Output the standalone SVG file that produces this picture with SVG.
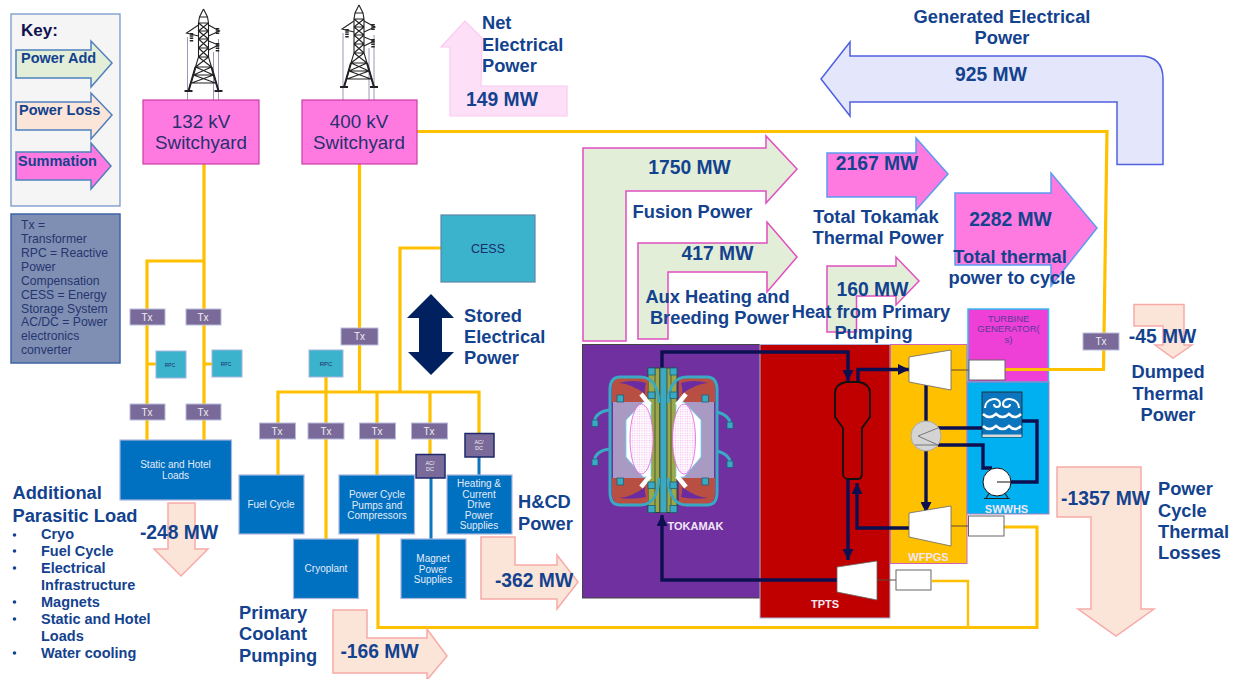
<svg xmlns="http://www.w3.org/2000/svg" width="1238" height="679" viewBox="0 0 1238 679">
<style>
text{font-family:"Liberation Sans",Arial,sans-serif}
.h{font-weight:700;font-size:18.300px;fill:#13428e}
.c{text-anchor:middle}
.m{font-weight:700;font-size:19.300px;fill:#13428e;text-anchor:middle}
.k{font-weight:700;font-size:14.500px;fill:#13428e}
.li{font-weight:700;font-size:14.500px;fill:#13428e}
.w{fill:#e3eed9;stroke:#e04fc0;stroke-width:1.5}
.s{fill:#ff7ae0;stroke:#5b9bf0;stroke-width:1.5}
.l{fill:#fbe5d8;stroke:#f7aaa8;stroke-width:1.5}
.y{fill:none;stroke:#ffc000;stroke-width:3.200}
.yt{fill:none;stroke:#ffc000;stroke-width:2.400}
.bl{fill:none;stroke:#0f75bd;stroke-width:3}
.n{fill:none;stroke:#0c1050;stroke-width:3.400}
.sh{fill:none;stroke:#5a4a3a;stroke-width:1}
.b{fill:#0070c0;stroke:#a8b4dc;stroke-width:1.200}
.bt{fill:#e4ecf8;font-size:10px;text-anchor:middle}
.tx{fill:#7a6a9a;stroke:#b8bcdc;stroke-width:1}
.txt{fill:#eee;font-size:10px;text-anchor:middle}
.rpc{fill:#3bb3cd;stroke:#a8b4dc;stroke-width:1}
.ad{fill:#7a6a9a;stroke:#1c2a6b;stroke-width:1.500}
.adt{fill:#eee;font-size:5.500px;text-anchor:middle}
.rt{fill:#1d2b6b;text-anchor:middle}
.tb{fill:#fff;stroke:#666;stroke-width:1}
.tur{fill:#fff;stroke:#666;stroke-width:.8}
.lab{font-weight:700;fill:#f3e6f5;font-size:11px;text-anchor:middle}
.sy{font-size:18.800px;fill:#27306e;text-anchor:middle}
.tw{fill:none;stroke:#222;stroke-width:1.100}
.sq{fill:#3aa9c4;stroke:#1f5f75;stroke-width:.8}
.tube{fill:none;stroke:#3aa9c4;stroke-width:3}
.wv{fill:none;stroke:#fff}
</style>
<defs>
<marker id="ah" viewBox="0 0 10 10" refX="10" refY="5" markerWidth="11" markerHeight="11" markerUnits="userSpaceOnUse" orient="auto"><path d="M0 0L10 5L0 10Z" fill="#0c1050"/></marker>
<pattern id="dots" width="2.400" height="2.400" patternUnits="userSpaceOnUse"><rect width="2.400" height="2.400" fill="#fff"/><circle cx="1.200" cy="1.200" r=".7" fill="#f6b8f0"/></pattern>
<g id="tower">
<path d="M-16 28V95M10 43V95M15 30V95" stroke="#9a9ab8" stroke-width="1" fill="none"/>
<path class="tw" d="M0 0L-4 8L-5 14V48L-8 58L-15 82M0 0L4 8L5 14V48L8 58L15 82M-4 8H4M-5 14H5M-5 14L5 22M5 14L-5 22M-5 22H5M-5 22L5 30M5 22L-5 30M-5 30H5M-5 30L5 39M5 30L-5 39M-5 39H5M-5 39L5 48M5 39L-5 48M-5 48H5M-5 48L8 58M5 48L-8 58M-8 58H8M-8 58L10 66M8 58L-10 66M-10 66H10M-10 66L12 74M10 66L-12 74M-12 74H12"/>
<path class="tw" d="M-5 16L-17 24L-5 27M5 16L16 22L5 27M5 32L15 36L5 41"/>
<path d="M-8 58L-15 82M8 58L15 82M-19 82H-11M11 82H19" stroke="#222" stroke-width="2" fill="none"/>
<path d="M-12 24v9M14 19v7M14 34v9" stroke="#222" stroke-width="3.500" stroke-dasharray="1.500 .8" fill="none"/>
</g>
</defs>
<rect width="1238" height="679" fill="#fff"/>

<g id="plant-backgrounds">
<rect id="tokamak-area" x="582.500" y="344.500" width="177.500" height="253.500" fill="#7030a0" stroke="#444" stroke-width="1"/>
<rect id="tpts-area" x="760" y="344.500" width="130" height="273.500" fill="#c00000" stroke="#a8b4dc" stroke-width="1"/>
<rect id="wfpgs-area" x="890.500" y="344.500" width="76.500" height="219" fill="#ffc000" stroke="#cc66bb" stroke-width="1"/>
<rect id="turbine-area" x="968" y="309" width="80.500" height="73" fill="#ee3fd6" stroke="#33bbee" stroke-width="1.500"/>
<rect id="swwhs-area" x="967" y="382" width="82" height="132" fill="#00b0f0" stroke="#b080c0" stroke-width="1"/>
</g>

<g id="connectors">
<path class="y" d="M204 164V440M147 440V261H204"/>
<path class="y" d="M147 364H156M204 364H212"/>
<path class="y" d="M359.500 164V392M400 392V248H441"/>
<path class="y" d="M278 475V392H479V433"/>
<path class="y" d="M326 377V539"/>
<path class="y" d="M377 392V475M430 392V455"/>
<path class="y" d="M378 534V627.500H1037V527H1003"/>
<path class="yt" d="M932 581H968V627"/>
<path class="y" d="M417 131.500H1107L1103.500 369.500H1005"/>
<path class="bl" d="M431 478V539M479 457V475"/>
<path class="n" d="M662 368V352H848V381" marker-end="url(#ah)"/>
<path class="n" d="M858 382V369.500H909" marker-end="url(#ah)"/>
<path class="n" d="M926 385V422"/>
<path class="n" d="M926 451V513" marker-end="url(#ah)"/>
<path class="n" d="M910 528H857V483" marker-end="url(#ah)"/>
<path class="n" d="M848 479V560" marker-end="url(#ah)"/>
<path class="n" d="M838 580H662V515" marker-end="url(#ah)"/>
<path class="n" d="M938 428H983M938 445H983V468H992"/>
<path class="n" d="M1021 421H1037V482H1008"/>
<path class="sh" d="M951 370H969M951 526H969M877 580H896"/>
</g>

<g id="key"><rect x="11" y="14" width="109" height="192" fill="#f5f5f5" stroke="#6a90c8" stroke-width="1.200"/>
<text x="21" y="36" font-size="17" font-weight="700" fill="#10124f">Key:</text>
<path d="M16 50H91V41L112 63L91 87V78H16Z" fill="#e3eed9" stroke="#4f81bd" stroke-width="1.500"/><text x="21" y="63" class="k">Power Add</text>
<path d="M16 102H91V93L112 115L91 139V130H16Z" fill="#fbe5d8" stroke="#4f81bd" stroke-width="1.500"/><text x="19" y="115" class="k">Power Loss</text>
<path d="M16 152H91V143L111 166L91 189V180H16Z" fill="#ff7ae0" stroke="#4f81bd" stroke-width="1.500"/><text x="18" y="166" class="k">Summation</text></g>
<g id="legend"><rect x="11" y="214" width="109" height="149" fill="#7f8fb3" stroke="#3f64a6" stroke-width="1.500"/>
<text font-size="12.200" fill="#26356f"><tspan x="21" y="229">Tx =</tspan><tspan x="21" y="243">Transformer</tspan><tspan x="21" y="257">RPC = Reactive</tspan><tspan x="21" y="271">Power</tspan><tspan x="21" y="285">Compensation</tspan><tspan x="21" y="299">CESS = Energy</tspan><tspan x="21" y="313">Storage System</tspan><tspan x="21" y="326">AC/DC = Power</tspan><tspan x="21" y="340">electronics</tspan><tspan x="21" y="354">converter</tspan></text></g>

<g id="generated-power"><path d="M1163 164.500H1117V102H850V116L821 79L850 42V56H1140Q1163 56 1163 79Z" fill="#e4e6fb" stroke="#5060e0" stroke-width="1.500"/><text x="991" y="81" class="m">925 MW</text><text x="1002" y="23" class="h c">Generated Electrical</text><text x="1002" y="44" class="h c">Power</text></g>
<g id="net-power"><path d="M450 47H441L465 21L482 38L481 86H567V116H450Z" fill="#fde0f8" stroke="#fcc8f0" stroke-width="1.200"/><text x="502" y="106" class="m">149 MW</text><text class="h"><tspan x="482" y="29">Net</tspan><tspan x="482" y="51">Electrical</tspan><tspan x="482" y="72">Power</tspan></text></g>

<g id="sw132"><use href="#tower" x="203.500" y="9"/><rect x="143" y="100" width="116" height="64" fill="#ff7ae0" stroke="#c83ca8" stroke-width="1.200"/><text x="201" y="128" class="sy">132 kV</text><text x="201" y="149" class="sy">Switchyard</text></g>
<g id="sw400"><use href="#tower" x="359" y="5"/><rect x="302" y="100" width="115" height="64" fill="#ff7ae0" stroke="#c83ca8" stroke-width="1.200"/><text x="359" y="128" class="sy">400 kV</text><text x="359" y="149" class="sy">Switchyard</text></g>

<g id="cess"><rect x="441" y="215" width="94" height="67" fill="#3bb3cd" stroke="#5b86a8" stroke-width="1.200"/><text x="488" y="253" font-size="12.500" fill="#1d2b6b" text-anchor="middle">CESS</text></g>
<g id="stored"><path d="M431 294L454 318H442V352H454L431 375L408 352H419V318H407Z" fill="#002060"/><text class="h"><tspan x="464" y="322">Stored</tspan><tspan x="464" y="343">Electrical</tspan><tspan x="464" y="364">Power</tspan></text></g>

<g id="tx-nodes">
<rect class="tx" x="130" y="309" width="35" height="16"/><text class="txt" x="147" y="321">Tx</text>
<rect class="tx" x="186" y="309" width="35" height="16"/><text class="txt" x="203" y="321">Tx</text>
<rect class="tx" x="130" y="404" width="35" height="16"/><text class="txt" x="147" y="416">Tx</text>
<rect class="tx" x="186" y="404" width="35" height="16"/><text class="txt" x="203" y="416">Tx</text>
<rect class="tx" x="341" y="328" width="37" height="17"/><text class="txt" x="359.500" y="340">Tx</text>
<rect class="tx" x="259.500" y="423" width="36" height="16"/><text class="txt" x="277" y="435">Tx</text>
<rect class="tx" x="308" y="423" width="36" height="16"/><text class="txt" x="326" y="435">Tx</text>
<rect class="tx" x="359.500" y="423" width="36" height="16"/><text class="txt" x="377" y="435">Tx</text>
<rect class="tx" x="411.500" y="423" width="36" height="16"/><text class="txt" x="429" y="435">Tx</text>
<rect class="tx" x="1083" y="333" width="36" height="17"/><text class="txt" x="1101" y="345">Tx</text>
</g>
<g id="rpc-nodes">
<rect class="rpc" x="156" y="351" width="30" height="27"/><text class="rt" x="170" y="367" font-size="5">RPC</text>
<rect class="rpc" x="212" y="350" width="30" height="27"/><text class="rt" x="226" y="366" font-size="5">RPC</text>
<rect class="rpc" x="309" y="350" width="34" height="27"/><text class="rt" x="326" y="366" font-size="6">RPC</text>
</g>
<g id="acdc-nodes">
<rect class="ad" x="416" y="454.500" width="29" height="23.500"/><text class="adt" x="430" y="465">AC/</text><text class="adt" x="430" y="471">DC</text>
<rect class="ad" x="465" y="433.500" width="29" height="23.500"/><text class="adt" x="479" y="444">AC/</text><text class="adt" x="479" y="450">DC</text>
</g>
<g id="static"><rect class="b" x="120" y="440" width="111.500" height="60"/><text class="bt" x="175.500" y="468">Static and Hotel</text><text class="bt" x="175.500" y="479">Loads</text></g>
<g id="fuel"><rect class="b" x="239" y="475" width="65" height="59"/><text class="bt" x="271" y="508">Fuel Cycle</text></g>
<g id="cryo"><rect class="b" x="293.500" y="539" width="65" height="59.500"/><text class="bt" x="326" y="572">Cryoplant</text></g>
<g id="pumps"><rect class="b" x="339" y="475" width="75.500" height="59"/><text class="bt" x="377" y="498">Power Cycle</text><text class="bt" x="377" y="508.500">Pumps and</text><text class="bt" x="377" y="519">Compressors</text></g>
<g id="magnet"><rect class="b" x="401" y="539" width="65" height="59.500"/><text class="bt" x="433" y="562">Magnet</text><text class="bt" x="433" y="572.500">Power</text><text class="bt" x="433" y="583">Supplies</text></g>
<g id="hcd"><rect class="b" x="447" y="475" width="65" height="59"/><text class="bt" x="479" y="487">Heating &amp;</text><text class="bt" x="479" y="497.500">Current</text><text class="bt" x="479" y="508">Drive</text><text class="bt" x="479" y="518.500">Power</text><text class="bt" x="479" y="529">Supplies</text></g>

<g id="parasitic-load">
<path class="l" d="M168 503H195V549H208L181 576L154 549H168Z"/>
<text x="179" y="539" class="m">-248 MW</text>
<text class="h"><tspan x="12.500" y="499">Additional</tspan><tspan x="12.500" y="522">Parasitic Load</tspan></text>
<g fill="#13428e"><circle cx="14.500" cy="535" r="1.800"/><circle cx="14.500" cy="551" r="1.800"/><circle cx="14.500" cy="568" r="1.800"/><circle cx="14.500" cy="602" r="1.800"/><circle cx="14.500" cy="619" r="1.800"/><circle cx="14.500" cy="653" r="1.800"/></g>
<text class="li" x="41" y="539">Cryo</text><text class="li" x="41" y="556">Fuel Cycle</text><text class="li" x="41" y="573">Electrical</text><text class="li" x="41" y="590">Infrastructure</text><text class="li" x="41" y="607">Magnets</text><text class="li" x="41" y="624">Static and Hotel</text><text class="li" x="41" y="641">Loads</text><text class="li" x="41" y="658">Water cooling</text>
</g>
<g id="hcd-power">
<path class="l" d="M481 537H515V565H557V555L578 582L557 609V599H481Z"/><text x="534" y="587" class="m">-362 MW</text>
<text class="h"><tspan x="518" y="508">H&amp;CD</tspan><tspan x="518" y="530">Power</tspan></text>
</g>
<g id="coolant-pumping">
<path class="l" d="M333 610H367V638H427V629L447 656L427 680V673H333Z"/><text x="379.500" y="658" class="m">-166 MW</text>
<text class="h"><tspan x="239" y="619">Primary</tspan><tspan x="239" y="640">Coolant</tspan><tspan x="239" y="662">Pumping</tspan></text>
</g>
<g id="dumped">
<path class="l" d="M1134 304.500H1184V345H1192L1173 358L1155 345H1163V326H1134Z"/>
<text x="1162.500" y="343" class="m">-45 MW</text>
<text class="h c"><tspan x="1168" y="378">Dumped</tspan><tspan x="1168" y="400">Thermal</tspan><tspan x="1168" y="421">Power</tspan></text>
</g>
<g id="cycle-losses">
<path class="l" d="M1057 467H1141V609H1154L1116 636L1078 609H1091V517H1057Z"/>
<text x="1105.500" y="505" class="m">-1357 MW</text>
<text class="h"><tspan x="1158" y="495">Power</tspan><tspan x="1158" y="517">Cycle</tspan><tspan x="1158" y="538">Thermal</tspan><tspan x="1158" y="559">Losses</tspan></text>
</g>

<g id="fusion-power"><path class="w" d="M583 148H766V136L797 169L766 203V191H626V341H583Z"/>
<text x="689.500" y="174" class="m">1750 MW</text><text x="692.500" y="218" class="h c">Fusion Power</text></g>
<g id="aux-heating"><path class="w" d="M638 243H767V222L797 257L767 292V272H668V339H638Z"/>
<text x="717.500" y="260" class="m">417 MW</text><text x="717.500" y="303" class="h c">Aux Heating and</text><text x="719.500" y="324" class="h c">Breeding Power</text></g>
<g id="total-tokamak"><path class="s" d="M827 153H916V138L948 174L916 210V197H827Z"/>
<text x="877" y="170" class="m">2167 MW</text><text x="876" y="223" class="h c">Total Tokamak</text><text x="878" y="244" class="h c">Thermal Power</text></g>
<g id="primary-pumping"><path class="w" d="M827 266H896V257L919 281L896 305V296H856.500V332H827Z"/>
<text x="872.500" y="296" class="m">160 MW</text><text x="871" y="318" class="h c">Heat from Primary</text><text x="873.500" y="339" class="h c">Pumping</text></g>
<g id="total-thermal"><path class="s" d="M955 193H1051V173L1097 228L1051 286V265H955Z"/>
<text x="1010.500" y="226" class="m">2282 MW</text><text x="1010" y="263" class="h c">Total thermal</text><text x="1012" y="284" class="h c">power to cycle</text></g>

<g id="tokamak">
<rect x="648" y="368" width="29" height="144.500" fill="#9aa84a" stroke="#2f3d3f" stroke-width="1"/>
<path d="M655 368V512M659.500 368V512M667 368V512M671 368V512" stroke="#3e4a2e" stroke-width=".8" fill="none"/>
<path d="M622 377H648V402H612V387Q612 377 622 377ZM705 377H679V402H715V387Q715 377 705 377ZM622 504H648V478H612V494Q612 504 622 504ZM705 504H679V478H715V494Q715 504 705 504Z" fill="#b84f42"/>
<rect x="613" y="402" width="36" height="76" fill="#a99ac4"/><rect x="678" y="402" width="36" height="76" fill="#a99ac4"/>
<path d="M643 402L626 420V457L643 477L651 477V402Z" fill="#fff" stroke="#5fd8ee" stroke-width=".8"/><path d="M684 402L701 420V457L684 477L676 477V402Z" fill="#fff" stroke="#5fd8ee" stroke-width=".8"/>
<ellipse cx="641.500" cy="439" rx="11.500" ry="35" fill="url(#dots)" stroke="#e05ee0" stroke-width=".8"/><ellipse cx="684" cy="439" rx="11.500" ry="35" fill="url(#dots)" stroke="#e05ee0" stroke-width=".8"/>
<path d="M619 383Q634 379 646 383Q644 390 645 394Q632 384 619 383ZM708 383Q693 379 681 383Q683 390 682 394Q695 384 708 383ZM619 498Q634 500 646 497Q644 490 645 487Q632 497 619 498ZM708 498Q693 500 681 497Q683 490 682 487Q695 497 708 498Z" fill="#6a2ca0"/>
<path d="M641 394L650 405M686 394L677 405M641 487L650 476M686 487L677 476" stroke="#fff" stroke-width="4.500"/>
<path class="tube" d="M659 403C658 385 652 377 640 377H620Q610 377 610 390V492Q610 505 620 505H640C652 505 658 497 659 478M668 403C669 385 675 377 687 377H707Q717 377 717 390V492Q717 505 707 505H687C675 505 669 497 668 478"/>
<rect x="660.500" y="368" width="6" height="144.500" fill="#3aa9c4" stroke="#1f5f75" stroke-width=".5"/>
<rect class="sq" x="648" y="368" width="7" height="7"/><rect class="sq" x="670" y="368" width="7" height="7"/><rect class="sq" x="648" y="392" width="7" height="6.500"/><rect class="sq" x="670" y="392" width="7" height="6.500"/><rect class="sq" x="648" y="482" width="7" height="6.500"/><rect class="sq" x="670" y="482" width="7" height="6.500"/><rect class="sq" x="648" y="505.500" width="7" height="7"/><rect class="sq" x="670" y="505.500" width="7" height="7"/>
<rect class="sq" x="617" y="395" width="6.500" height="7"/><rect class="sq" x="702" y="395" width="6.500" height="7"/><rect class="sq" x="617" y="478" width="6.500" height="7"/><rect class="sq" x="702" y="478" width="6.500" height="7"/>
<path class="tube" d="M609 410Q596 412 594.500 421M609 449Q596 451 594.500 460M717 412Q729 415 730 423M717 451Q729 454 730 462"/>
<rect class="sq" x="592" y="420" width="6" height="6.500"/><rect class="sq" x="592" y="459" width="6" height="6.500"/><rect class="sq" x="727" y="422" width="6" height="6.500"/><rect class="sq" x="727" y="461" width="6" height="6.500"/>
<text class="lab" x="695.500" y="530">TOKAMAK</text>
</g>

<g id="steam-generator"><path d="M846 382C841 383 835 385 835 393V417L843 428V473C843 478 845 479 849 479H858C861 479 862 477 862 473V428L870 417V393C870 385 864 383 859 382Z" fill="#c00000" stroke="#111" stroke-width="1.800"/></g>
<g id="tpts"><path class="tur" d="M837 567L877 561V600L837 592Z"/><rect class="tb" x="896" y="570" width="35" height="20"/><text class="lab" x="825" y="608">TPTS</text></g>
<g id="wfpgs">
<path class="tur" d="M909 357L951 350V390L909 382Z"/>
<path class="tur" d="M909 513L951 506V546L909 537Z"/>
<circle cx="926" cy="436" r="15" fill="#d4d4d4" stroke="#aaa"/><path d="M938 428L918 436L938 445H915" fill="none" stroke="#777"/>
<text class="lab" x="928.500" y="561">WFPGS</text>
</g>
<g id="turbine-generator">
<text x="1008.500" y="322" font-size="9.500" fill="#5a3a9a" text-anchor="middle">TURBINE</text><text x="1008.500" y="332" font-size="9.500" fill="#5a3a9a" text-anchor="middle">GENERATOR(</text><text x="1008.500" y="343" font-size="9.500" fill="#5a3a9a" text-anchor="middle">s)</text>
<rect class="tb" x="969" y="360" width="36" height="20"/><rect class="tb" x="968.500" y="516" width="35.500" height="20"/>
</g>
<g id="swwhs">
<rect x="982" y="392" width="40" height="45" fill="#0b75bd" stroke="#222" stroke-width=".8"/>
<path class="wv" stroke-width="2" d="M985 408C985 398 1000 396 1000 404C1000 408 994 408 994 404M1019 408C1019 398 1003 396 1003 404C1003 408 1010 408 1010 404"/>
<path class="wv" stroke-width="2.500" d="M983 414q6.500 6 13 0q6.500 6 13 0q6 6 12 0M983 426q6.500 6 13 0q6.500 6 13 0q6 6 12 0"/>
<rect x="982.500" y="434.500" width="39" height="2.500" fill="#d8d8d8"/>
<path d="M986 498L990 492M1008 498L1004 492M984 498.500H1010" stroke="#222" stroke-width="1.200"/>
<circle cx="997" cy="482" r="14" fill="#fff" stroke="#111" stroke-width="1"/><path d="M997 482H1011" stroke="#111" stroke-width="1"/>
<text class="lab" x="1006.500" y="513">SWWHS</text>
</g>
</svg>
